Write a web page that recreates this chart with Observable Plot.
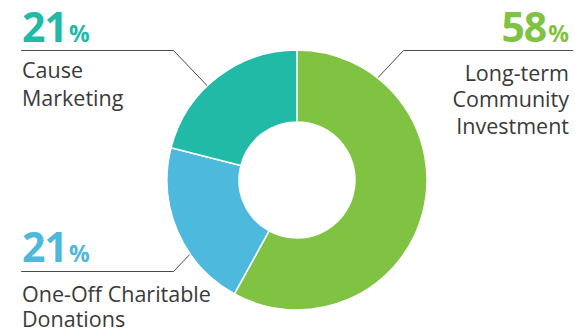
<!DOCTYPE html>
<html><head><meta charset="utf-8">
<script src="https://cdn.jsdelivr.net/npm/d3@7"></script>
<script src="https://cdn.jsdelivr.net/npm/@observablehq/plot@0.6"></script>
<style>body{margin:0;background:#fff} svg{display:block}</style>
</head><body><div id="chart"></div>
<script>
// ---- data ----
const categories = ["Long-term Community Investment", "One-Off Charitable Donations", "Cause Marketing"];
const values = [58, 21, 21];
const percentLabels = ["58", "21", "21"];
const labelLines = [["Long-term", "Community", "Investment"], ["One-Off Charitable", "Donations"], ["Cause", "Marketing"]];
const colors = ["#80c342", "#4db9dc", "#21baa7"];

// ---- layout ----
const W = 575, H = 331;
const cx = 297, cy = 180, rOuter = 130, rInner = 58;
const FONT = "'Open Sans', sans-serif";
const layout = [
  {anchorDeg: 38,    elbow: [403, 50],  end: [572, 50],  textX: 569, align: "end",   pctY: 42,  lineY: [81, 107, 134]},
  {anchorDeg: 235.6, elbow: [173, 271], end: [21, 271],  textX: 22,  align: "start", pctY: 262, lineY: [302, 327]},
  {anchorDeg: 316.4, elbow: [173, 50],  end: [21, 50],   textX: 22,  align: "start", pctY: 42,  lineY: [78, 106]}
];

const slices = categories.map((c, i) => ({category: c, value: values[i], color: colors[i]}));
const arcs = d3.pie().sort(null).value(d => d.value)(slices);

const leaderPts = [];
layout.forEach((L, i) => {
  const a = L.anchorDeg * Math.PI / 180;
  leaderPts.push({k: i, x: cx + rOuter * Math.sin(a), y: cy - rOuter * Math.cos(a)});
  leaderPts.push({k: i, x: L.elbow[0], y: L.elbow[1]});
  leaderPts.push({k: i, x: L.end[0], y: L.end[1]});
});

function donutMark(index, scales) {
  const g = d3.create("svg:g");
  const arc = d3.arc().innerRadius(rInner).outerRadius(rOuter);
  g.attr("transform", `translate(${scales.x(cx)},${scales.y(cy)})`);
  g.selectAll("path").data(arcs).join("path")
    .attr("d", arc)
    .attr("fill", d => d.data.color)
    .attr("stroke", "#fff")
    .attr("stroke-width", 1.5)
    .attr("stroke-linejoin", "round");
  return g.node();
}

function labelMark(index, scales) {
  const g = d3.create("svg:g").attr("font-family", FONT);
  layout.forEach((L, i) => {
    const t = g.append("text")
      .attr("x", scales.x(L.textX)).attr("y", scales.y(L.pctY))
      .attr("text-anchor", L.align)
      .attr("fill", colors[i]).attr("font-weight", 700);
    t.append("tspan").attr("font-size", 41).attr("letter-spacing", -1).text(percentLabels[i]);
    t.append("tspan").attr("font-size", 23).attr("dx", 2).text("%");
    labelLines[i].forEach((line, j) => {
      g.append("text")
        .attr("x", scales.x(L.textX)).attr("y", scales.y(L.lineY[j]))
        .attr("text-anchor", L.align)
        .attr("fill", "#3a3a3a").attr("font-size", 21.5)
        .text(line);
    });
  });
  return g.node();
}

const chart = Plot.plot({
  width: W, height: H, margin: 0,
  x: {domain: [0, W], range: [0, W], axis: null},
  y: {domain: [0, H], range: [0, H], axis: null},
  marks: [
    Plot.line(leaderPts, {x: "x", y: "y", z: "k", stroke: "#4a4a4a", strokeWidth: 1}),
    donutMark,
    labelMark
  ]
});
document.getElementById("chart").appendChild(chart);
</script>
</body></html>
